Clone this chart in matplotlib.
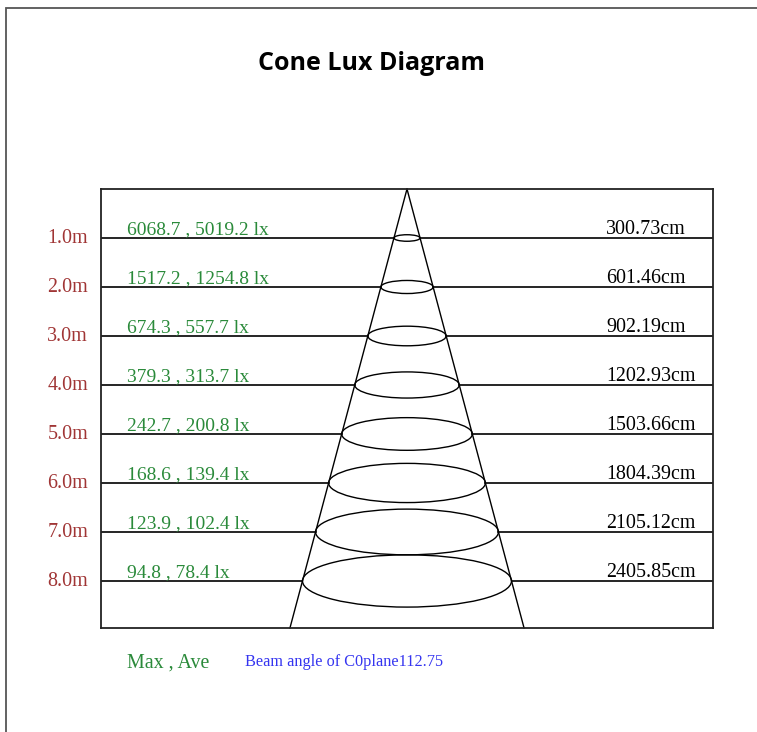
import numpy as np
import matplotlib
matplotlib.use("Agg")
import matplotlib.pyplot as plt
from matplotlib.patches import Ellipse, Rectangle

# ---- data ----
distances_m = [1, 2, 3, 4, 5, 6, 7, 8]
dist_labels = ["1.0m", "2.0m", "3.0m", "4.0m", "5.0m", "6.0m", "7.0m", "8.0m"]
lux_max = [6068.7, 1517.2, 674.3, 379.3, 242.7, 168.6, 123.9, 94.8]
lux_ave = [5019.2, 1254.8, 557.7, 313.7, 200.8, 139.4, 102.4, 78.4]
diameters_cm = [300.73, 601.46, 902.19, 1202.93, 1503.66, 1804.39, 2105.12, 2405.85]
beam_angle = 112.75

W, H = 757, 732
fig = plt.figure(figsize=(W / 100, H / 100), dpi=100)

# axes box in pixels
bx0, bx1, by0, by1 = 101, 713, 189, 628
ax = fig.add_axes([bx0 / W, 1 - by1 / H, (bx1 - bx0) / W, (by1 - by0) / H])
xhalf = 3522.0
ymax = 8.96
ax.set_xlim(-xhalf, xhalf)
ax.set_ylim(ymax, 0)
ax.set_xticks([])
ax.set_yticks([])
for s in ax.spines.values():
    s.set_linewidth(1.3)
    s.set_color("#222222")

px_per_cm = (bx1 - bx0) / (2 * xhalf)
px_per_m = (by1 - by0) / ymax
ratio = 0.25

serif = ["Liberation Serif", "DejaVu Serif"]
green = "#2a8a3a"
red = "#a03535"

# cone edges
slope = np.tan(np.radians(beam_angle / 2)) * 100  # cm per m
ax.plot([0, -slope * ymax], [0, ymax], color="black", lw=1.0, clip_on=False)
ax.plot([0, slope * ymax], [0, ymax], color="black", lw=1.0, clip_on=False)

for d, lab, mx, av, dia in zip(distances_m, dist_labels, lux_max, lux_ave, diameters_cm):
    r = dia / 2
    b = ratio * r * px_per_cm / px_per_m
    ax.plot([-xhalf, -r], [d, d], color="black", lw=1.2)
    ax.plot([r, xhalf], [d, d], color="black", lw=1.2)
    ax.add_patch(Ellipse((0, d), 2 * r, 2 * b, fill=False, ec="black", lw=1.0))
    ax.text(-0.021, d + 1 / px_per_m, lab, transform=ax.get_yaxis_transform(),
            ha="right", va="center", fontsize=14.4, family=serif, color=red)
    ax.text(0.0425, d - 4 / px_per_m, f"{mx} , {av} lx", transform=ax.get_yaxis_transform(),
            ha="left", va="baseline", fontsize=14.0, family=serif, color=green)
    ax.text(0.825, d - 4 / px_per_m, f"{dia:.2f}cm", transform=ax.get_yaxis_transform(),
            ha="left", va="baseline", fontsize=14.4, family=serif, color="black")

fig.text(372 / W, 1 - 63 / H, "Cone Lux Diagram", ha="center", va="center",
         fontsize=18, fontweight="bold", family=["Open Sans", "DejaVu Sans"])
fig.text(127 / W, 1 - 663 / H, "Max , Ave", ha="left", va="center",
         fontsize=14.4, family=serif, color=green)
fig.text(245 / W, 1 - 662 / H, f"Beam angle of C0plane{beam_angle}", ha="left", va="center",
         fontsize=11.7, family=serif, color="#3535f0")

# outer frame (left and top edges visible)
fig.patches.append(Rectangle((6 / W, -0.1), 2.0, 1 - 8 / H + 0.1, transform=fig.transFigure,
                             fill=False, ec="#555555", lw=1.3))

fig.savefig("out.png", dpi=100)
